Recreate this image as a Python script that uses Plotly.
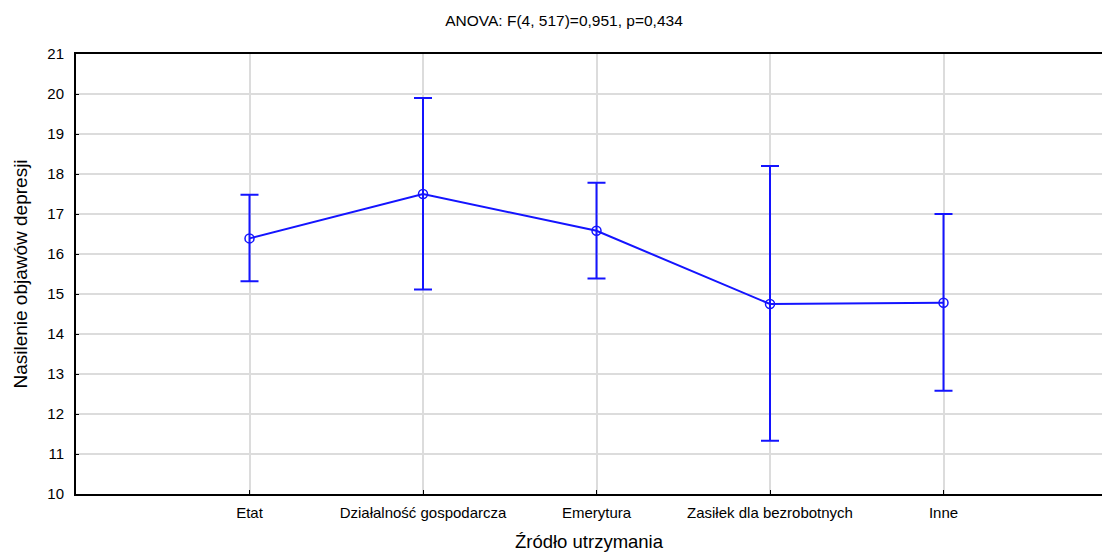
import plotly.graph_objects as go

categories = ["Etat", "Działalność gospodarcza", "Emerytura", "Zasiłek dla bezrobotnych", "Inne"]
means = [16.39, 17.50, 16.58, 14.75, 14.78]
upper = [17.48, 19.90, 17.78, 18.20, 17.00]
lower = [15.32, 15.11, 15.39, 11.33, 12.58]
y_ticks = list(range(10, 22))

xpos = list(range(1, len(categories) + 1))
err_plus = [u - m for u, m in zip(upper, means)]
err_minus = [m - l for m, l in zip(means, lower)]

blue = "#1414ff"
fig = go.Figure()
fig.add_trace(go.Scatter(
    x=xpos, y=means, mode="lines+markers",
    line=dict(color=blue, width=2),
    marker=dict(symbol="circle-open", size=9, color=blue, line=dict(width=1.5, color=blue)),
    error_y=dict(type="data", symmetric=False, array=err_plus, arrayminus=err_minus,
                 color=blue, thickness=2, width=9),
    showlegend=False,
))

font = "Liberation Sans, Arial, sans-serif"
fig.update_layout(
    width=1102, height=552,
    margin=dict(l=76, r=0, t=54, b=58),
    paper_bgcolor="white", plot_bgcolor="white",
    font=dict(family=font, color="black", size=13),
    title=dict(text="ANOVA: F(4, 517)=0,951, p=0,434", x=564 / 1102, xanchor="center",
               y=1 - 21 / 552, yanchor="middle", font=dict(size=15.5, family=font)),
    xaxis=dict(
        range=[0, 1026 / 173.5], tickvals=xpos, ticktext=categories,
        showgrid=True, gridcolor="#dcdcdc", gridwidth=2,
        showline=True, linecolor="black", linewidth=2, mirror=True,
        ticks="inside", ticklen=4, tickcolor="black",
        tickfont=dict(size=15), ticklabelstandoff=4,
        title=dict(text="Źródło utrzymania", font=dict(size=18.5), standoff=17),
        zeroline=False,
    ),
    yaxis=dict(
        range=[10, 21], tickvals=y_ticks,
        showgrid=True, gridcolor="#dcdcdc", gridwidth=2,
        showline=True, linecolor="black", linewidth=2, mirror=False,
        ticks="inside", ticklen=3, tickcolor="black",
        tickfont=dict(size=15), ticklabelstandoff=7,
        title=dict(text="Nasilenie objawów depresji", font=dict(size=19), standoff=15),
        zeroline=False,
    ),
)
fig.write_html("out.html")
